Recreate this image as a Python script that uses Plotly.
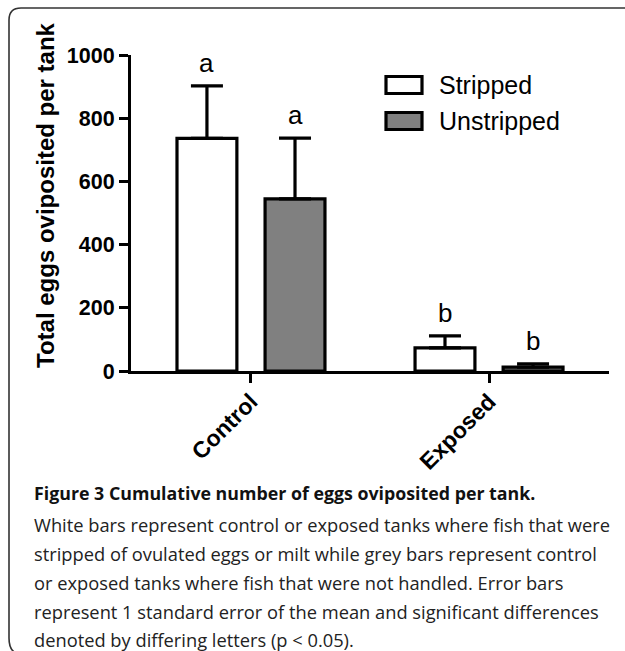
import plotly.graph_objects as go

# ---- data ----
categories = ["Control", "Exposed"]
series_names = ["Stripped", "Unstripped"]
stripped_mean = [736, 73]
stripped_se = [166, 38]
unstripped_mean = [545, 12]
unstripped_se = [192, 11]
letters_stripped = ["a", "b"]
letters_unstripped = ["a", "b"]
y_ticks = [0, 200, 400, 600, 800, 1000]
y_title = "Total eggs oviposited per tank"
caption_title = "Figure 3 Cumulative number of eggs oviposited per tank."
caption_lines = [
    "White bars represent control or exposed tanks where fish that were",
    "stripped of ovulated eggs or milt while grey bars represent control",
    "or exposed tanks where fish that were not handled. Error bars",
    "represent 1 standard error of the mean and significant differences",
    "denoted by differing letters (p < 0.05).",
]

W, H = 625, 651
L, R, T, B = 131, 16, 55, 280
PW, PH = W - L - R, H - T - B

def px(x):
    return (x - L) / PW

def py(y):
    return (H - B - y) / PH

BARGAP = 0.26
GROUPGAP = 0.32
slot = (1 - BARGAP) / 2
offsets = [-slot / 2, slot / 2]
fills = ["white", "#808080"]
means = [stripped_mean, unstripped_mean]
ses = [stripped_se, unstripped_se]
letters = [letters_stripped, letters_unstripped]

AXFONT = "Liberation Sans, Arial, sans-serif"

fig = go.Figure()
for k in range(2):
    fig.add_trace(go.Bar(
        x=categories, y=means[k], name=series_names[k],
        marker=dict(color=fills[k], line=dict(color="black", width=3.2)),
        error_y=dict(type="data", array=ses[k], arrayminus=[0] * len(ses[k]),
                     symmetric=False, color="black", thickness=3.2, width=16),
        showlegend=False,
    ))

# significance letters
for k in range(2):
    for i, c in enumerate(categories):
        fig.add_annotation(
            x=i + offsets[k], y=means[k][i] + ses[k][i], xref="x", yref="y",
            text=letters[k][i], showarrow=False, yanchor="bottom", yshift=6,
            font=dict(family=AXFONT, size=26, color="black"),
        )

# legend (drawn manually for large symbol boxes)
leg_y = [85, 121]
for k in range(2):
    fig.add_shape(type="rect", xref="paper", yref="paper",
                  x0=px(386), x1=px(422), y0=py(leg_y[k] - 8.5), y1=py(leg_y[k] + 8.5),
                  line=dict(color="black", width=3.2), fillcolor=fills[k])
    fig.add_annotation(x=px(437), y=py(leg_y[k]), xref="paper", yref="paper",
                       text=series_names[k], showarrow=False, xanchor="left",
                       yanchor="middle", font=dict(family=AXFONT, size=25, color="black"))

# y-axis title
fig.add_annotation(x=px(45), y=py(195), xref="paper", yref="paper",
                   text="<b>" + y_title + "</b>", showarrow=False, textangle=-90,
                   xanchor="center", yanchor="middle",
                   font=dict(family=AXFONT, size=24, color="black"))

# frame
fig.add_shape(type="path", xref="paper", yref="paper",
              path=(f"M {px(626)} {py(8)} L {px(21)} {py(8)} "
                    f"Q {px(9)} {py(8)} {px(9)} {py(20)} "
                    f"L {px(9)} {py(638)} Q {px(9)} {py(650)} {px(16)} {py(653)}"),
              line=dict(color="#333333", width=1.6))

# caption
CAPFONT = "Open Sans, Noto Sans, sans-serif"
fig.add_annotation(x=px(32), y=py(493), xref="paper", yref="paper",
                   text="<b>" + caption_title + "</b>", showarrow=False,
                   xanchor="left", yanchor="middle",
                   font=dict(family=CAPFONT, size=17.8, color="#111111"))
cap_y = [524, 553, 582, 611, 639]
for line, yy in zip(caption_lines, cap_y):
    fig.add_annotation(x=px(32), y=py(yy), xref="paper", yref="paper",
                       text=line.replace("<", "&lt;"), showarrow=False,
                       xanchor="left", yanchor="middle",
                       font=dict(family=CAPFONT, size=18.3, color="#222222"))

fig.update_layout(
    width=W, height=H,
    margin=dict(l=L, r=R, t=T, b=B, pad=0),
    plot_bgcolor="white", paper_bgcolor="white",
    barmode="group", bargap=BARGAP, bargroupgap=GROUPGAP,
    font=dict(family=AXFONT, color="black"),
)
fig.update_xaxes(
    range=[-0.504, 1.504], showline=True, linecolor="black", linewidth=3,
    ticks="outside", ticklen=9, tickwidth=3, tickcolor="black",
    tickangle=-45, ticklabelstandoff=-4,
    tickfont=dict(family=AXFONT, size=23, color="black", weight="bold"),
    showgrid=False, zeroline=False,
)
fig.update_yaxes(
    range=[0, 1000], tickvals=y_ticks, showline=True, linecolor="black", linewidth=3,
    ticks="outside", ticklen=9, tickwidth=3, tickcolor="black",
    tickfont=dict(family=AXFONT, size=21.5, color="black", weight="bold"),
    showgrid=False, zeroline=False,
)

fig.write_html("out.html", config={"displayModeBar": False},
               post_script="document.body.style.margin='0';")
